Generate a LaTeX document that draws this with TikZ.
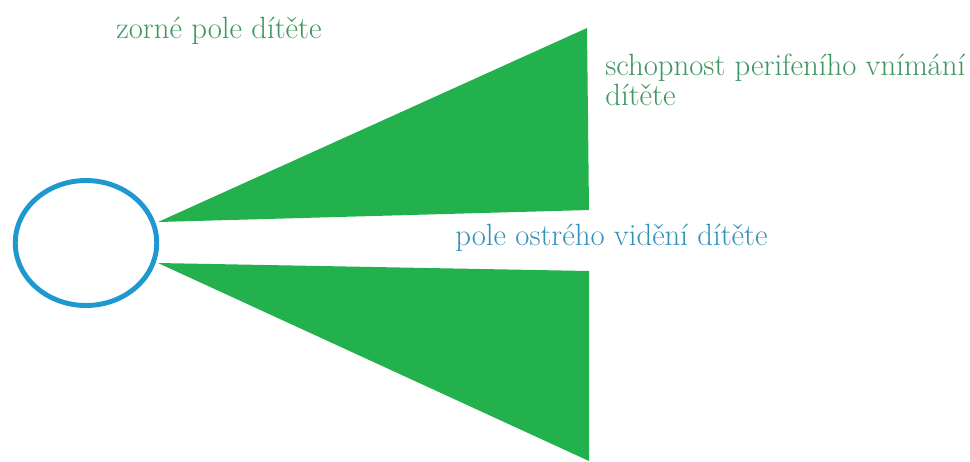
\documentclass[tikz,border=0pt]{standalone}
\usepackage{fontspec}
\usepackage{xcolor}
\usetikzlibrary{shapes.geometric, positioning}

\definecolor{fieldgreen}{RGB}{34,177,76}
\definecolor{textgreen}{RGB}{60,150,95}
\definecolor{eyeblue}{RGB}{30,152,208}
\definecolor{textblue}{RGB}{50,145,185}

\begin{document}
\begin{tikzpicture}[
    x=0.02cm, y=-0.02cm,
    eye/.style={ellipse, draw=eyeblue, line width=2.8pt, minimum width=2.83cm, minimum height=2.5cm, inner sep=0pt},
    field/.style={fill=fieldgreen, draw=none},
    caption/.style={font=\fontsize{17.5}{17}\selectfont, inner sep=0pt, anchor=base west, align=left}
]
\useasboundingbox (0,0) rectangle (970,461);

\node[eye] (eye) at (86,243) {};

% zorne pole
\coordinate (uptip) at (158,222);
\coordinate (lowtip) at (158,263);
\fill[field] (uptip) -- (587,28) -- (589,210) -- cycle;
\fill[field] (lowtip) -- (589,271) -- (589,461) -- cycle;

\node[caption, text=textgreen] (zorne) at (116,38) {zorné pole dítěte};
\node[caption, text=textgreen] (perif) at (605,105) {schopnost perifeního vnímání\\dítěte};
\node[caption, text=textblue] (ostre) at (455,245) {pole ostrého vidění dítěte};

\end{tikzpicture}
\end{document}
